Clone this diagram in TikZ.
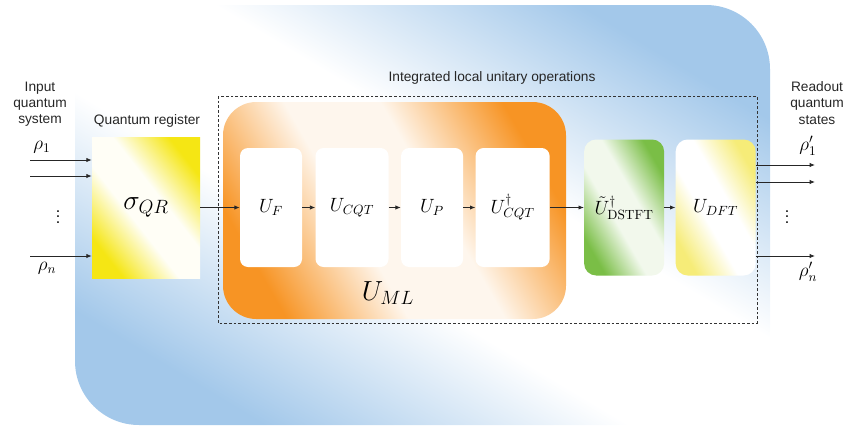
\documentclass[tikz,border=0pt]{standalone}
\usepackage[no-math]{fontspec}
\setmainfont{Liberation Sans}
\usetikzlibrary{arrows.meta,positioning}

\definecolor{bgblue}{RGB}{163,200,234}
\definecolor{mlorange}{RGB}{247,148,36}
\definecolor{qryellow}{RGB}{245,230,20}
\definecolor{dftyellow}{RGB}{246,236,120}
\definecolor{stftgreen}{RGB}{122,190,70}
\colorlet{bandcolor}{bgblue}
\colorlet{bandmid}{white}
\pgfdeclareverticalshading[bandcolor,bandmid]{diagband}{100bp}{color(0bp)=(bandcolor); color(25bp)=(bandcolor); color(43bp)=(bandmid); color(57bp)=(bandmid); color(75bp)=(bandcolor); color(100bp)=(bandcolor)}

\begin{document}
\begin{tikzpicture}[
    x=0.75pt, y=-0.75pt,
    diagshade/.style={shade, shading=diagband, shading angle=-45, /utils/exec={\colorlet{bandcolor}{#1}\colorlet{bandmid}{white}}},
    bandmid/.style={/utils/exec={\colorlet{bandmid}{#1}}},
    opbox/.style={fill=white, rounded corners=6pt, minimum height=89.25pt, inner sep=0pt, font=\Large},
    transbox/.style={rounded corners=9pt, minimum width=60pt, minimum height=102pt, inner sep=0pt, font=\Large},
    arrow/.style={-{Latex[length=4pt,width=3.2pt]}, line width=0.6pt, draw=black!85},
    caption/.style={align=center, text=black!85, font=\fontsize{10.3}{12.2}\selectfont}
  ]
  \useasboundingbox (0,0) rectangle (847,429);
  % background panels
  \path[diagshade=bgblue, shading angle=-31, rounded corners=48pt] (75,5) rectangle (770,425);
  \path[diagshade=mlorange, bandmid=mlorange!8, shading angle=-60, rounded corners=25pt] (223,102) rectangle (566,319);
  \draw[dash pattern=on 2pt off 1.5pt, line width=0.5pt, black!80] (218,96) rectangle (757,323);

  % register and operations
  \node[diagshade=qryellow, bandmid=qryellow!4, shading angle=-52, minimum width=81pt, minimum height=105.75pt, inner sep=0pt, font=\huge] (qr) at (146,207.5) {$\sigma_{QR}$};
  \node[opbox, minimum width=46.5pt] (uf) at (271,207.5) {$U_F$};
  \node[opbox, minimum width=54.75pt, right=9.75pt of uf] (ucqt) {$U_{CQT}$};
  \node[opbox, minimum width=46.5pt, right=9pt of ucqt] (up) {$U_P$};
  \node[opbox, minimum width=55.5pt, right=9pt of up] (ucqtinv) {$U_{CQT}^{\dagger}$};
  \node[transbox, diagshade=stftgreen, bandmid=stftgreen!10, shading angle=-60, right=25.5pt of ucqtinv] (dstft) {$\tilde{U}_{\mathrm{DSTFT}}^{\dagger}$};
  \node[transbox, diagshade=dftyellow, shading angle=-60, right=8.25pt of dstft] (dft) {$U_{DFT}$};
  \node[font=\huge] (uml) at (388,293) {$U_{ML}$};

  % labels
  \node[caption] (input) at (40,104) {Input\\quantum\\system};
  \node[caption] (readout) at (817,103) {Readout\\quantum\\states};
  \node[caption] (qrlabel) at (147,121) {Quantum register};
  \node[caption] (ilu) at (492,78) {Integrated local unitary operations};

  % inputs
  \coordinate (in1) at (30,160);
  \coordinate (in2) at (30,176);
  \coordinate (inn) at (30,256);
  \node[font=\Large] (rho1) at (42,147) {$\rho_1$};
  \node[font=\Large] (rhon) at (47,268) {$\rho_n$};
  \node[font=\large] (indots) at (58,213) {$\vdots$};
  \draw[arrow] (in1) -- (in1 -| qr.west);
  \draw[arrow] (in2) -- (in2 -| qr.west);
  \draw[arrow] (inn) -- (inn -| qr.west);

  % chain
  \draw[arrow] (qr) -- (uf);
  \draw[arrow] (uf) -- (ucqt);
  \draw[arrow] (ucqt) -- (up);
  \draw[arrow] (up) -- (ucqtinv);
  \draw[arrow] (ucqtinv) -- (dstft);
  \draw[arrow] (dstft) -- (dft);

  % outputs
  \coordinate (out1) at (815,165);
  \coordinate (out2) at (815,182);
  \coordinate (outn) at (815,256);
  \node[font=\Large] (rhoo1) at (808,146) {$\rho_1'$};
  \node[font=\Large] (rhoon) at (808,272) {$\rho_n'$};
  \node[font=\large] (outdots) at (787,213) {$\vdots$};
  \draw[arrow] (out1 -| dft.east) -- (out1);
  \draw[arrow] (out2 -| dft.east) -- (out2);
  \draw[arrow] (outn -| dft.east) -- (outn);
\end{tikzpicture}
\end{document}
